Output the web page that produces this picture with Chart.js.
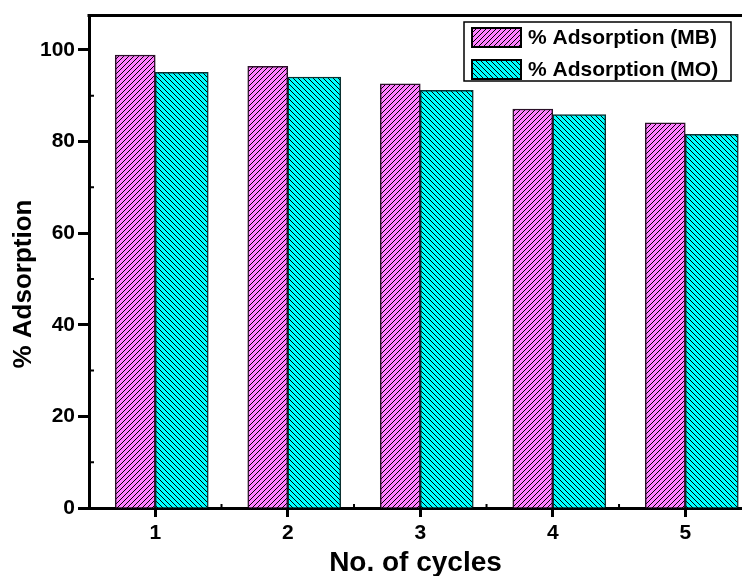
<!DOCTYPE html>
<html>
<head>
<meta charset="utf-8">
<script src="https://cdn.jsdelivr.net/npm/chart.js@4"></script>
<style>
  html, body { margin: 0; padding: 0; background: #fff; overflow: hidden; }
  #wrap { width: 742px; height: 576px; }
</style>
</head>
<body>
<div id="wrap"><canvas id="c" width="742" height="576"></canvas></div>
<script>
// --- data ---
const cycles = [1, 2, 3, 4, 5];
const adsMB = [98.9, 96.4, 92.6, 87.1, 84.1];
const adsMO = [95.1, 94.1, 91.2, 85.9, 81.6];
const yTicks = [0, 20, 40, 60, 80, 100];
const yTitle = '% Adsorption';
const xTitle = 'No. of cycles';

const FONT = '"Liberation Sans", Arial, sans-serif';

// hatch fill: dir 1 = "///", dir -1 = "\\\"
function hatch(ctx, bg, dir) {
    const s = 5;
    const t = document.createElement('canvas');
    t.width = t.height = s;
    const g = t.getContext('2d');
    g.fillStyle = bg;
    g.fillRect(0, 0, s, s);
    g.strokeStyle = '#000';
    g.lineWidth = 1;
    g.beginPath();
    if (dir > 0) {
        g.moveTo(0, s); g.lineTo(s, 0);
        g.moveTo(-1, 1); g.lineTo(1, -1);
        g.moveTo(s - 1, s + 1); g.lineTo(s + 1, s - 1);
    } else {
        g.moveTo(0, 0); g.lineTo(s, s);
        g.moveTo(s - 1, -1); g.lineTo(s + 1, 1);
        g.moveTo(-1, s - 1); g.lineTo(1, s + 1);
    }
    g.stroke();
    return ctx.createPattern(t, 'repeat');
}

const ctx = document.getElementById('c').getContext('2d');
const pinkFill = hatch(ctx, '#ff80ff', 1);
const cyanFill = hatch(ctx, '#00ffff', -1);

// bars are not the same width in the original, so they sit on a linear axis
const MB_OFFSET = -0.151, MO_OFFSET = 0.2;

// frame top line, minor ticks, y title and the boxed legend
const extras = {
    id: 'extras',
    afterDraw(chart) {
        const c = chart.ctx, a = chart.chartArea;
        const xs = chart.scales.x, ys = chart.scales.y;
        c.save();
        c.strokeStyle = '#000';
        c.lineWidth = 3;
        c.beginPath();
        c.moveTo(a.left - 1.5, a.top);
        c.lineTo(a.right, a.top);
        c.stroke();

        // minor ticks, pointing inward
        c.lineWidth = 2;
        c.beginPath();
        for (let v = 10; v < 110; v += 20) {
            const y = ys.getPixelForValue(v);
            c.moveTo(a.left, y); c.lineTo(a.left + 5, y);
        }
        for (let v = 1.5; v < xs.max; v += 1) {
            const x = xs.getPixelForValue(v);
            c.moveTo(x, a.bottom); c.lineTo(x, a.bottom - 4);
        }
        c.stroke();

        // y title (sits a bit below the middle in the original)
        c.fillStyle = '#000';
        c.font = 'bold 26px ' + FONT;
        c.textAlign = 'center';
        c.textBaseline = 'middle';
        c.translate(24, 284);
        c.rotate(-Math.PI / 2);
        c.fillText(yTitle, 0, 0);
        c.setTransform(1, 0, 0, 1, 0, 0);

        // legend
        const bx = 464, by = 22, bw = 267, bh = 59;
        c.fillStyle = '#fff';
        c.fillRect(bx, by, bw, bh);
        c.lineWidth = 1.5;
        c.strokeStyle = '#000';
        c.strokeRect(bx, by, bw, bh);
        c.font = 'bold 21px ' + FONT;
        c.textAlign = 'left';
        c.textBaseline = 'middle';
        chart.data.datasets.forEach((ds, i) => {
            const sy = 28 + i * 32;
            c.fillStyle = ds.backgroundColor;
            c.fillRect(472, sy, 49, 19);
            c.lineWidth = 2;
            c.strokeStyle = '#000';
            c.strokeRect(472, sy, 49, 19);
            c.fillStyle = '#000';
            c.fillText(ds.label, 528, sy + 10);
        });
        c.restore();
    }
};

new Chart(ctx, {
    type: 'bar',
    data: {
        datasets: [{
            label: '% Adsorption (MB)',
            data: cycles.map((c, i) => ({ x: c + MB_OFFSET, y: adsMB[i] })),
            backgroundColor: pinkFill,
            borderColor: '#2a1028',
            borderWidth: 1.5,
            barThickness: 40
        }, {
            label: '% Adsorption (MO)',
            data: cycles.map((c, i) => ({ x: c + MO_OFFSET, y: adsMO[i] })),
            backgroundColor: cyanFill,
            borderColor: '#0a3030',
            borderWidth: 1.5,
            barThickness: 53
        }]
    },
    plugins: [extras],
    options: {
        responsive: false,
        animation: false,
        layout: { padding: { top: 15, right: 0, left: 0, bottom: 0 } },
        datasets: { bar: { grouped: false } },
        scales: {
            x: {
                type: 'linear',
                offset: false,
                min: 0.5,
                max: 5.428,
                afterFit: s => { s.height = 68; },
                afterBuildTicks: s => { s.ticks = cycles.map(v => ({ value: v })); },
                grid: { offset: false, drawOnChartArea: false, tickLength: 9, tickWidth: 3, tickColor: '#000' },
                border: { display: true, width: 3, color: '#000' },
                ticks: { color: '#000', padding: 4, font: { family: FONT, size: 21, weight: 'bold' } },
                title: {
                    display: true,
                    text: xTitle,
                    color: '#000',
                    padding: { top: 0, bottom: -4 },
                    font: { family: FONT, size: 28, weight: 'bold' }
                }
            },
            y: {
                min: 0,
                max: 107.5,
                afterFit: s => { s.width = 89; },
                afterBuildTicks: s => { s.ticks = yTicks.map(v => ({ value: v })); },
                grid: { drawOnChartArea: false, tickLength: 11, tickWidth: 3, tickColor: '#000' },
                border: { display: true, width: 3, color: '#000' },
                ticks: { color: '#000', padding: 3, font: { family: FONT, size: 21, weight: 'bold' } },
                title: { display: false }
            }
        },
        plugins: {
            legend: { display: false },
            tooltip: { enabled: false }
        }
    }
});
</script>
</body>
</html>
